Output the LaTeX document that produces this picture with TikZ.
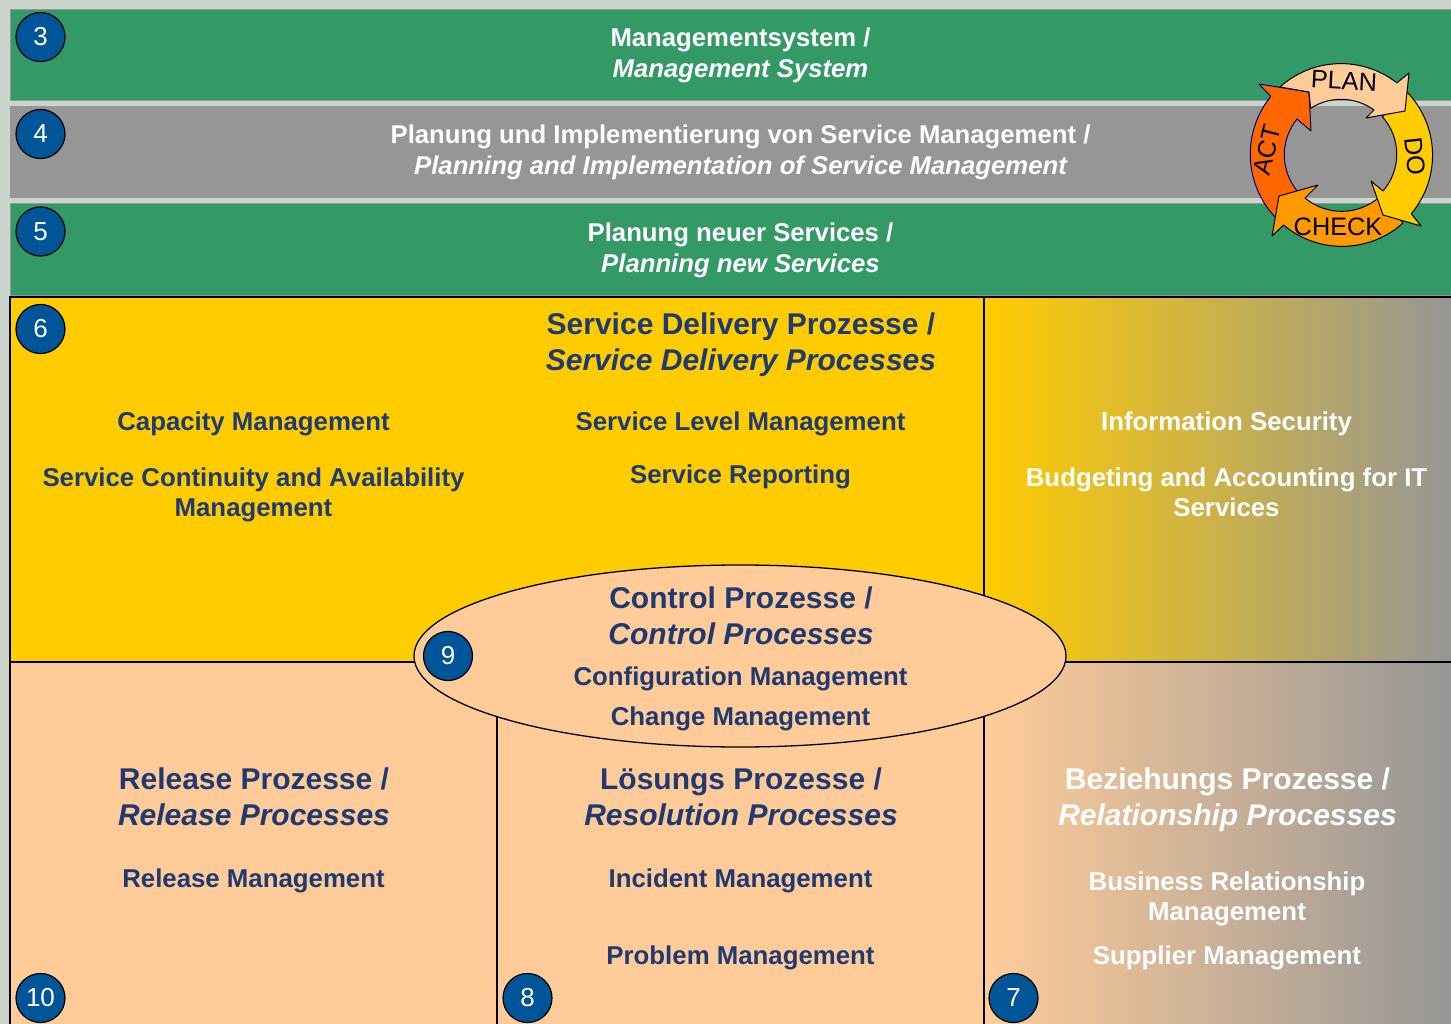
\documentclass[tikz,border=0pt]{standalone}
\usepackage{fontspec}
\setmainfont{Liberation Sans}
\usetikzlibrary{shapes.geometric}
\definecolor{bggreen}{HTML}{CCD5CC}
\definecolor{bandgreen}{HTML}{339966}
\definecolor{bandgray}{HTML}{969696}
\definecolor{procyellow}{HTML}{FFCC00}
\definecolor{procpeach}{HTML}{FFCC99}
\definecolor{titleblue}{HTML}{1F3A73}
\definecolor{badgeblue}{HTML}{005599}
\definecolor{actorange}{HTML}{FF6600}
\definecolor{checkorange}{HTML}{FF9900}
\tikzset{
  bandtext/.style = {align = center, text = white, font = \bfseries\fontsize{25.7}{31}\selectfont},
  headtext/.style = {align = center, text = titleblue, font = \bfseries\fontsize{30}{36}\selectfont},
  itemtext/.style = {align = center, text = titleblue, font = \bfseries\fontsize{25.8}{30}\selectfont},
  badge/.style = {draw = black, line width = 1.2pt, fill = badgeblue, shape = circle, minimum size = 49pt, inner sep = 0pt, text = white, font = \fontsize{26}{30}\selectfont},
  pdca/.style = {draw = black, line width = 1pt, line join = round},
  pdcatext/.style = {text = black, inner sep = 0pt, font = \fontsize{25.3}{30}\selectfont},
  frameline/.style = {line width = 1.3pt}
}
\begin{document}
\begin{tikzpicture}[x = 1pt, y = -1pt]
\useasboundingbox (0,0) rectangle (1451,1024);
\fill[bggreen] (0,0) rectangle (1451,1024);
\draw[bandgray, fill = bandgreen] (10,9) rectangle (1460,100);
\fill[bandgray] (10,106) rectangle (1451,198);
\draw[bandgray, fill = bandgreen] (10,203) rectangle (1460,295);
\fill[procyellow] (10,297) rectangle (984,662);
\fill[procpeach] (10,662) rectangle (984,1024);
\shade[left color = procyellow, right color = bandgray] (984,297) rectangle (1451,662);
\shade[left color = procpeach, right color = bandgray] (984,662) rectangle (1451,1024);
\draw[frameline] (10,1024) -- (10,297) -- (1451,297);
\draw[frameline] (10,662) -- (1451,662);
\draw[frameline] (984,297) -- (984,1024);
\draw[frameline] (497,662) -- (497,1024);
\node[draw = black, frameline, fill = procpeach, shape = ellipse, minimum width = 652pt, minimum height = 182pt] (control) at (740,656) {};

\draw[pdca, draw = blue!50!black, fill = actorange] (1275,217) arc[start angle = 137, end angle = 219, radius = 92] -- (1259,84) -- (1309,92) -- (1311,131) -- (1297,119) arc[start angle = 219, end angle = 141, radius = 57] -- cycle;
\draw[pdca, fill = checkorange] (1403,223) arc[start angle = 48, end angle = 130, radius = 91] -- (1272,236) -- (1279,196) -- (1318,185) -- (1305,198) arc[start angle = 130, end angle = 48, radius = 57] -- cycle;
\draw[pdca, fill = procyellow] (1407,92) arc[start angle = -44, end angle = 40, radius = 91] -- (1421,226) -- (1383,215) -- (1371,181) -- (1383,191) arc[start angle = 41, end angle = -42, radius = 56] -- cycle;
\draw[pdca, fill = procpeach] (1280,87) arc[start angle = 228, end angle = 308, radius = 91] -- (1409,73) -- (1405,111) -- (1366,118) -- (1374,110) arc[start angle = 306, end angle = 237, radius = 56] -- (1309,92) -- cycle;
\node[pdcatext, rotate = -3] (plan) at (1344,81) {PLAN};
\node[pdcatext, rotate = -84] (do) at (1415,156) {DO};
\node[pdcatext] (check) at (1338,227) {CHECK};
\node[pdcatext, rotate = 76] (act) at (1267,150) {ACT};

\node[bandtext] (band3) at (740.5,55) {Managementsystem /\\\itshape Management System};
\node[bandtext] (band4) at (740.5,152) {Planung und Implementierung von Service Management /\\\itshape Planning and Implementation of Service Management};
\node[bandtext] (band5) at (740.5,250) {Planung neuer Services /\\\itshape Planning new Services};

\node[headtext] (delivery) at (741,345) {Service Delivery Prozesse /\\\itshape Service Delivery Processes};
\node[itemtext] (capacity) at (253.5,424) {Capacity Management};
\node[itemtext] (continuity) at (253.5,495) {Service Continuity and Availability\\Management};
\node[itemtext] (level) at (740.5,424) {Service Level Management};
\node[itemtext] (reporting) at (740.5,477) {Service Reporting};
\node[itemtext, text = white] (security) at (1226.5,424) {Information Security};
\node[itemtext, text = white] (budgeting) at (1226.5,492) {Budgeting and Accounting for IT\\Services};

\node[headtext] (controlhead) at (741,616) {Control Prozesse /\\\itshape Control Processes};
\node[itemtext] (config) at (740.5,679) {Configuration Management};
\node[itemtext] (change) at (740.5,719) {Change Management};

\node[headtext] (release) at (254,797) {Release Prozesse /\\\itshape Release Processes};
\node[itemtext] (releasemgmt) at (253.5,881) {Release Management};
\node[headtext] (resolution) at (741,797) {Lösungs Prozesse /\\\itshape Resolution Processes};
\node[itemtext] (incident) at (740.5,881) {Incident Management};
\node[itemtext] (problem) at (740.5,958) {Problem Management};
\node[headtext, text = white] (relationship) at (1227.5,800) {Beziehungs Prozesse /\\\itshape Relationship Processes};
\node[itemtext, text = white] (business) at (1227,899) {Business Relationship\\Management};
\node[itemtext, text = white] (supplier) at (1227,958) {Supplier Management};

\node[badge] (n3) at (40.5,37) {3};
\node[badge] (n4) at (40.5,134) {4};
\node[badge] (n5) at (40.5,231.5) {5};
\node[badge] (n6) at (40.5,329) {6};
\node[badge] (n9) at (448,656) {9};
\node[badge] (n10) at (40.5,998) {10};
\node[badge] (n8) at (527.5,998) {8};
\node[badge] (n7) at (1013.5,998) {7};
\end{tikzpicture}
\end{document}
